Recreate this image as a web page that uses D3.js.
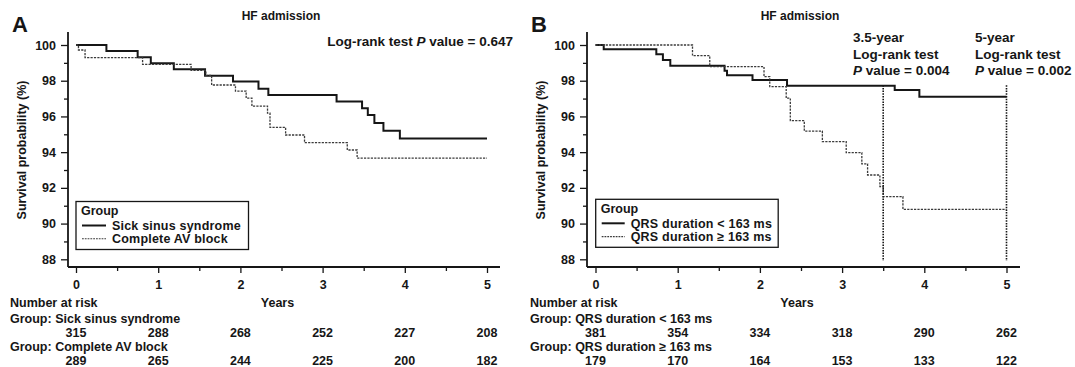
<!DOCTYPE html>
<html>
<head>
<meta charset="utf-8">
<script src="https://cdn.jsdelivr.net/npm/d3@7"></script>
<style>
  body { margin: 0; background: #fff; }
  svg { display: block; font-family: "Liberation Sans", Arial, sans-serif; font-weight: bold; }
</style>
</head>
<body>
<svg id="chart" width="1075" height="367"></svg>
<script>
// ---- data ----
const xTicks = [0, 1, 2, 3, 4, 5];
const xMinor = [0.5, 1.5, 2.5, 3.5, 4.5];
const yTicks = [88, 90, 92, 94, 96, 98, 100];
const yMinor = [89, 91, 93, 95, 97, 99];

// Panel A: Sick sinus syndrome vs Complete AV block (event times, survival %)
const ssTimes = [0, 0.37, 0.75, 0.91, 1.19, 1.57, 1.91, 2.22, 2.34, 3.17, 3.48, 3.55, 3.63, 3.74, 3.94];
const ssSurv  = [100, 99.66, 99.31, 98.98, 98.64, 98.28, 97.95, 97.55, 97.2, 96.83, 96.46, 96.08, 95.63, 95.2, 94.76];
const avTimes = [0, 0.03, 0.11, 0.81, 1.40, 1.58, 1.65, 1.94, 2.07, 2.14, 2.33, 2.36, 2.55, 2.78, 3.3, 3.42];
const avSurv  = [100, 99.72, 99.29, 98.92, 98.58, 98.3, 97.76, 97.42, 97.02, 96.58, 96.18, 95.39, 94.96, 94.53, 94.12, 93.66];

// Panel B: QRS duration < 163 ms vs >= 163 ms
const qrsLoTimes = [0, 0.1, 0.74, 0.82, 0.91, 1.57, 1.6, 1.91, 2.33, 3.64, 3.94];
const qrsLoSurv  = [100, 99.76, 99.48, 99.16, 98.84, 98.56, 98.3, 98.04, 97.72, 97.48, 97.1];
const qrsHiTimes = [0, 1.18, 1.39, 2.05, 2.12, 2.32, 2.37, 2.54, 2.76, 3.05, 3.24, 3.31, 3.46, 3.5, 3.74];
const qrsHiSurv  = [100, 99.4, 98.79, 98.23, 97.67, 97.02, 95.76, 95.18, 94.59, 93.97, 93.34, 92.72, 92.07, 91.51, 90.8];

// Number at risk
const riskSS = [315, 288, 268, 252, 227, 208];
const riskAV = [289, 265, 244, 225, 200, 182];
const riskLo = [381, 354, 334, 318, 290, 262];
const riskHi = [179, 170, 164, 153, 133, 122];

const endTime = 5;
const markTimes = [3.5, 5];

// ---- drawing ----
const svg = d3.select('#chart');
const ink = '#161616';

function drawPanel(p) {
  const g = svg.append('g');
  const x = d3.scaleLinear().domain([0, 5]).range([p.x0, p.x1]);
  const y = d3.scaleLinear().domain([88, 100]).range([259.3, 45]);
  const axisY = 267;

  // y axis
  const ya = g.append('g').attr('transform', `translate(${p.ax},0)`)
    .call(d3.axisLeft(y).tickValues(yTicks).tickSize(7).tickPadding(5));
  ya.select('.domain').remove();
  const ym = g.append('g').attr('transform', `translate(${p.ax},0)`)
    .call(d3.axisLeft(y).tickValues(yMinor).tickSize(4).tickFormat(''));
  ym.select('.domain').remove();

  // x axis
  const xa = g.append('g').attr('transform', `translate(0,${axisY})`)
    .call(d3.axisBottom(x).tickValues(xTicks).tickFormat(d3.format('d')).tickSize(6).tickPadding(7));
  xa.select('.domain').remove();
  const xm = g.append('g').attr('transform', `translate(0,${axisY})`)
    .call(d3.axisBottom(x).tickValues(xMinor).tickSize(4).tickFormat(''));
  xm.select('.domain').remove();

  g.selectAll('.tick line').attr('stroke', ink).attr('stroke-width', 1.3);
  g.selectAll('.tick text').attr('font-size', 12.5).attr('font-family', 'Liberation Sans, Arial, sans-serif')
    .attr('font-weight', 'bold').attr('fill', ink);

  g.append('line').attr('x1', p.ax).attr('x2', p.ax).attr('y1', 32).attr('y2', axisY)
    .attr('stroke', ink).attr('stroke-width', 1.8);
  g.append('line').attr('x1', p.ax).attr('x2', p.xEnd).attr('y1', axisY).attr('y2', axisY)
    .attr('stroke', ink).attr('stroke-width', 1.8);

  // labels
  g.append('text').attr('x', p.letterX).attr('y', 32).attr('font-size', 22).attr('fill', ink).text(p.letter);
  g.append('text').attr('x', p.titleX).attr('y', 20).attr('font-size', 12).attr('text-anchor', 'middle')
    .attr('fill', ink).text('HF admission');
  g.append('text').attr('transform', `translate(${p.ax - 42},150) rotate(-90)`)
    .attr('text-anchor', 'middle').attr('font-size', 12.5).attr('fill', ink).text('Survival probability (%)');
  g.append('text').attr('x', (p.x0 + p.x1) / 2 - 4).attr('y', 307).attr('text-anchor', 'middle')
    .attr('font-size', 12.5).attr('fill', ink).text('Years');

  // curves
  const line = d3.line().x(d => x(d[0])).y(d => y(d[1])).curve(d3.curveStepAfter);
  p.series.forEach(s => {
    const pts = s.times.map((t, i) => [t, s.surv[i]]);
    pts.push([endTime, s.surv[s.surv.length - 1]]);
    g.append('path').datum(pts).attr('d', line).attr('fill', 'none')
      .attr('stroke', s.dashed ? '#3a3a3a' : ink)
      .attr('stroke-width', s.dashed ? 1.3 : 2)
      .attr('stroke-dasharray', s.dashed ? '2.2,1.2' : null);
  });

  // legend
  const lg = g.append('g');
  lg.append('rect').attr('x', p.lg.x).attr('y', p.lg.y).attr('width', p.lg.w).attr('height', 48)
    .attr('fill', '#fff').attr('stroke', ink).attr('stroke-width', 1.3);
  lg.append('text').attr('x', p.lg.x + 5).attr('y', p.lg.y + 13.5).attr('font-size', 12.5).attr('fill', ink).text('Group');
  p.series.forEach((s, i) => {
    const ly = p.lg.y + 24 + i * 13.3;
    lg.append('line').attr('x1', p.lg.x + 6).attr('x2', p.lg.x + 6 + p.lg.sw).attr('y1', ly).attr('y2', ly)
      .attr('stroke', s.dashed ? '#3a3a3a' : ink).attr('stroke-width', s.dashed ? 1.1 : 2)
      .attr('stroke-dasharray', s.dashed ? '1.8,1' : null);
    lg.append('text').attr('x', p.lg.x + p.lg.sw + 12).attr('y', ly + 4.3).attr('font-size', 12.5)
      .attr('fill', ink).attr('letter-spacing', 0.2).text(s.name);
  });

  // risk table
  const rt = g.append('g').attr('font-size', 12.5).attr('fill', ink);
  rt.append('text').attr('x', p.riskX).attr('y', 307).text('Number at risk');
  p.series.forEach((s, i) => {
    rt.append('text').attr('x', p.riskX).attr('y', 323 + i * 28).text('Group: ' + s.name);
    rt.selectAll(null).data(s.risk).enter().append('text')
      .attr('x', (d, j) => x(xTicks[j])).attr('y', 337 + i * 28)
      .attr('text-anchor', 'middle').text(d => d);
  });

  return { g, x, y };
}

const A = drawPanel({
  letter: 'A', letterX: 12, titleX: 281, ax: 68, x0: 76, x1: 487, xEnd: 500, riskX: 10,
  lg: { x: 76, y: 201.5, w: 172.5, sw: 24 },
  series: [
    { name: 'Sick sinus syndrome', times: ssTimes, surv: ssSurv, risk: riskSS, dashed: false },
    { name: 'Complete AV block', times: avTimes, surv: avSurv, risk: riskAV, dashed: true }
  ]
});
A.g.append('text').attr('x', 513).attr('y', 46).attr('text-anchor', 'end').attr('font-size', 13.5).attr('fill', ink)
  .call(t => {
    t.append('tspan').text('Log-rank test ');
    t.append('tspan').attr('font-style', 'italic').text('P');
    t.append('tspan').text(' value = 0.647');
  });

const B = drawPanel({
  letter: 'B', letterX: 531, titleX: 800, ax: 587, x0: 595.5, x1: 1006.5, xEnd: 1020, riskX: 530,
  lg: { x: 595.7, y: 199.3, w: 182.5, sw: 23 },
  series: [
    { name: 'QRS duration < 163 ms', times: qrsLoTimes, surv: qrsLoSurv, risk: riskLo, dashed: false },
    { name: 'QRS duration \u2265 163 ms', times: qrsHiTimes, surv: qrsHiSurv, risk: riskHi, dashed: true }
  ]
});

// vertical marker lines at 3.5 and 5 years
B.g.selectAll('.mark').data(markTimes).enter().append('line')
  .attr('x1', d => B.x(d)).attr('x2', d => B.x(d))
  .attr('y1', B.y(97.75)).attr('y2', B.y(87.9))
  .attr('stroke', ink).attr('stroke-width', 1.6).attr('stroke-dasharray', '1.5,1.2');

const notes = [
  { x: 853, head: '3.5-year', p: '0.004' },
  { x: 975, head: '5-year', p: '0.002' }
];
notes.forEach(n => {
  const t = B.g.append('g').attr('font-size', 13.5).attr('fill', ink);
  t.append('text').attr('x', n.x).attr('y', 42).text(n.head);
  t.append('text').attr('x', n.x).attr('y', 58.5).text('Log-rank test');
  const pv = t.append('text').attr('x', n.x).attr('y', 75);
  pv.append('tspan').attr('font-style', 'italic').text('P');
  pv.append('tspan').text(' value = ' + n.p);
});
</script>
</body>
</html>
